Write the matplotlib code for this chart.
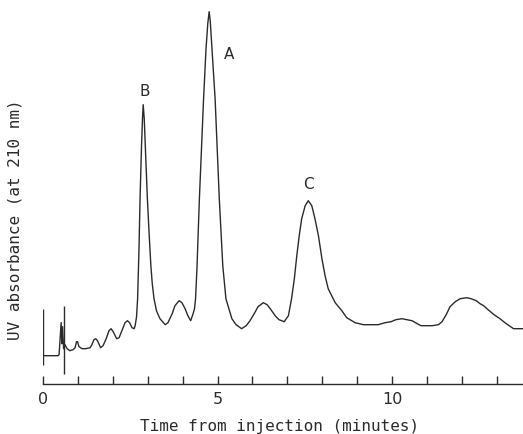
import matplotlib.pyplot as plt
from matplotlib.ticker import MultipleLocator

# digitised chromatogram: time (min) vs UV absorbance (arbitrary units)
time_min = [
    0.00, 0.26, 0.43, 0.46, 0.49, 0.52, 0.54, 0.56, 0.59, 0.63,
    0.69, 0.77, 0.86, 0.92, 0.96, 0.99, 1.03, 1.12, 1.23, 1.35,
    1.40, 1.46, 1.51, 1.56, 1.65, 1.72, 1.81, 1.89, 1.95, 2.01,
    2.11, 2.18, 2.26, 2.35, 2.42, 2.48, 2.55, 2.61, 2.64, 2.68,
    2.71, 2.75, 2.78, 2.82, 2.85, 2.87, 2.90, 2.94, 2.99, 3.04,
    3.09, 3.13, 3.18, 3.25, 3.35, 3.50, 3.58, 3.70, 3.78, 3.90,
    3.98, 4.07, 4.15, 4.23, 4.30, 4.34, 4.37, 4.41, 4.48, 4.54,
    4.60, 4.67, 4.72, 4.76, 4.79, 4.84, 4.93, 5.05, 5.15, 5.24,
    5.41, 5.53, 5.69, 5.82, 5.93, 6.05, 6.16, 6.31, 6.42, 6.53,
    6.65, 6.76, 6.91, 7.03, 7.12, 7.20, 7.27, 7.34, 7.41, 7.51,
    7.60, 7.70, 7.79, 7.89, 7.99, 8.08, 8.17, 8.37, 8.56, 8.70,
    8.94, 9.18, 9.37, 9.60, 9.80, 9.97, 10.11, 10.28,
    10.43, 10.57, 10.72, 10.83, 10.95, 11.15, 11.33, 11.43, 11.55, 11.66,
    11.81, 11.95, 12.14, 12.26, 12.41, 12.52, 12.62, 12.75, 12.92, 13.09,
    13.27, 13.48, 13.61, 13.75,
]
absorbance = [
    0.00, 0.00, 0.00, 0.01, 0.17, 0.33, 0.12, 0.29, 0.07, 0.11,
    0.07, 0.05, 0.06, 0.08, 0.14, 0.14, 0.09, 0.07, 0.07, 0.08,
    0.11, 0.16, 0.17, 0.15, 0.08, 0.10, 0.17, 0.25, 0.27, 0.24,
    0.17, 0.18, 0.25, 0.33, 0.35, 0.33, 0.28, 0.27, 0.30, 0.39,
    0.57, 1.07, 1.57, 2.07, 2.37, 2.51, 2.37, 2.02, 1.57, 1.22,
    0.90, 0.72, 0.57, 0.45, 0.37, 0.31, 0.33, 0.42, 0.50, 0.55,
    0.53, 0.47, 0.40, 0.35, 0.42, 0.47, 0.57, 0.87, 1.57, 2.07,
    2.57, 3.07, 3.32, 3.44, 3.35, 3.07, 2.57, 1.57, 0.90, 0.57,
    0.37, 0.31, 0.27, 0.30, 0.35, 0.42, 0.49, 0.53, 0.51, 0.46,
    0.40, 0.36, 0.34, 0.40, 0.57, 0.77, 1.00, 1.20, 1.37, 1.50,
    1.55, 1.50, 1.37, 1.20, 0.97, 0.80, 0.67, 0.53, 0.45, 0.38,
    0.33, 0.31, 0.31, 0.31, 0.33, 0.34, 0.36, 0.37,
    0.36, 0.35, 0.32, 0.30, 0.30, 0.30, 0.31, 0.34, 0.41, 0.49,
    0.54, 0.57, 0.58, 0.57, 0.55, 0.52, 0.50, 0.46, 0.41, 0.37,
    0.32, 0.27, 0.27, 0.27,
]

# pen start mark and injection mark
mark_times = [0.00, 0.61]
mark_low = [-0.09, -0.18]
mark_high = [0.47, 0.50]

# peak labels
peak_names = ["A", "B", "C"]
peak_times = [5.33, 2.92, 7.59]
peak_levels = [3.02, 2.65, 1.72]

ink = "#2b2b2b"
font = "DejaVu Sans Mono"

fig = plt.figure(figsize=(5.23, 4.35), dpi=100)
ax = fig.add_axes([43 / 523, 50 / 435, 480 / 523, 385 / 435])

ax.plot(time_min, absorbance, color=ink, lw=1.0)
ax.vlines(mark_times, mark_low, mark_high, color=ink, lw=1.0)

for name, t, lvl in zip(peak_names, peak_times, peak_levels):
    ax.text(t, lvl, name, ha="center", va="center", fontsize=11,
            color=ink, family="DejaVu Sans")

ax.set_xlim(0, 13.75)
ax.set_ylim(-0.283, 3.567)

for side in ["top", "right", "left"]:
    ax.spines[side].set_visible(False)
ax.spines["bottom"].set_color(ink)
ax.spines["bottom"].set_linewidth(1.0)

ax.xaxis.set_major_locator(MultipleLocator(5))
ax.xaxis.set_minor_locator(MultipleLocator(1))
ax.tick_params(axis="x", which="both", direction="in", length=6,
               width=1.0, color=ink, labelcolor=ink, pad=5)
ax.tick_params(axis="x", labelsize=11.5)
for lab in ax.get_xticklabels():
    lab.set_family("DejaVu Sans")
ax.set_yticks([])

fig.text(279.5 / 523, 1 - 427 / 435, "Time from injection (minutes)",
         ha="center", va="center", fontsize=11.5, family=font, color=ink)
fig.text(15 / 523, 1 - 220 / 435, "UV absorbance (at 210 nm)",
         ha="center", va="center", rotation=90, fontsize=11.5,
         family=font, color=ink)

fig.savefig("out.png", dpi=100, facecolor="white")
